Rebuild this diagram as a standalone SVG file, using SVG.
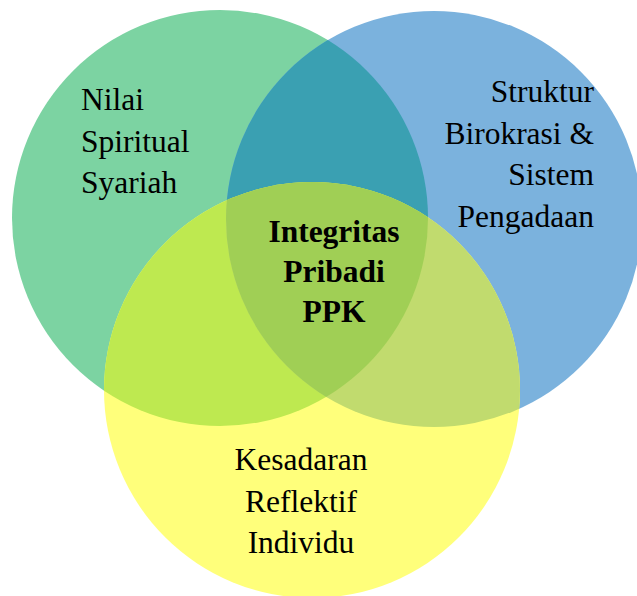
<svg xmlns="http://www.w3.org/2000/svg" width="637" height="596" viewBox="0 0 637 596">
<style>
text{font-family:'Liberation Serif','Times New Roman',serif;font-size:31.5px;fill:#000}
.b{font-weight:bold}
</style>
<defs>
<clipPath id="cg"><circle cx="220" cy="218" r="208"/></clipPath>
<clipPath id="cb"><circle cx="434" cy="219" r="208"/></clipPath>
</defs>
<rect width="637" height="596" fill="#fff"/>
<g id="circle-green"><circle cx="220" cy="218" r="208" fill="#7CD3A2"/></g>
<g id="circle-blue"><circle cx="434" cy="219" r="208" fill="#7BB2DD"/></g>
<g id="circle-yellow"><circle cx="312" cy="390" r="208" fill="#FFFF7B"/></g>
<g id="overlaps">
<g clip-path="url(#cg)"><circle cx="434" cy="219" r="208" fill="#3AA0B2"/></g>
<g clip-path="url(#cg)"><circle cx="312" cy="390" r="208" fill="#BEE950"/></g>
<g clip-path="url(#cb)"><circle cx="312" cy="390" r="208" fill="#C1DB6E"/></g>
<g clip-path="url(#cg)"><g clip-path="url(#cb)"><circle cx="312" cy="390" r="208" fill="#A0CF55"/></g></g>
</g>
<g id="label-green">
<text x="81" y="109.5">Nilai</text>
<text x="81" y="151.5">Spiritual</text>
<text x="81" y="193">Syariah</text>
</g>
<g id="label-blue" text-anchor="end">
<text x="594" y="102">Struktur</text>
<text x="594" y="143.5">Birokrasi &amp;</text>
<text x="594" y="185">Sistem</text>
<text x="594" y="226.5">Pengadaan</text>
</g>
<g id="label-yellow" text-anchor="middle">
<text x="301" y="469.5">Kesadaran</text>
<text x="301" y="512">Reflektif</text>
<text x="301" y="553">Individu</text>
</g>
<g id="label-center" text-anchor="middle">
<text class="b" x="334" y="241.5">Integritas</text>
<text class="b" x="334" y="281.5">Pribadi</text>
<text class="b" x="334" y="321.5">PPK</text>
</g>
</svg>
